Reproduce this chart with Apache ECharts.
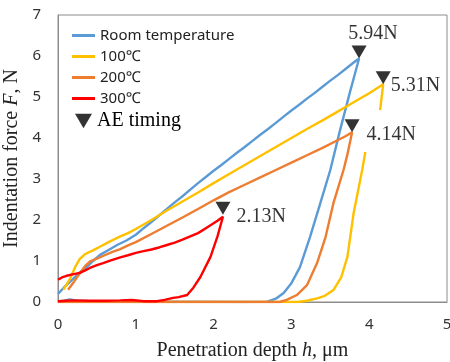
<!DOCTYPE html>
<html>
<head>
<meta charset="utf-8">
<script src="https://cdn.jsdelivr.net/npm/echarts@6/dist/echarts.min.js"></script>
<style>html,body{margin:0;padding:0;background:#fff;}#c{width:450px;height:362px;}</style>
</head>
<body>
<div id="c"></div>
<script>
// ---- data (penetration depth h [um], indentation force F [N]) ----
var seriesNames = ['Room temperature', '100℃', '200℃', '300℃'];
var seriesColors = ['#5B9BD5', '#FFC000', '#ED7D31', '#FF0000'];

var roomTemp = [
  [0,0.2],[0.08,0.36],[0.18,0.54],[0.28,0.72],[0.37,0.85],[0.45,1.0],[0.54,1.15],[0.65,1.27],[0.76,1.39],[0.88,1.5],
  [1.0,1.64],[1.1,1.8],[1.2,1.95],[1.3,2.11],[1.4,2.27],[1.5,2.43],[1.6,2.58],[1.7,2.74],[1.8,2.9],[1.9,3.05],
  [2.0,3.2],[2.1,3.34],[2.2,3.49],[2.3,3.64],[2.4,3.78],[2.5,3.93],[2.6,4.08],[2.7,4.22],[2.8,4.37],[2.9,4.52],
  [3.0,4.67],[3.1,4.81],[3.2,4.96],[3.3,5.1],[3.4,5.25],[3.5,5.4],[3.6,5.54],[3.7,5.69],[3.8,5.84],[3.87,5.94],
  [3.75,5.1],[3.62,4.15],[3.5,3.22],[3.37,2.4],[3.24,1.59],[3.11,0.85],[3.0,0.46],[2.9,0.22],[2.8,0.08],[2.69,0.01],
  [2.4,0.0],[1.5,0.01],[0.6,0.01],[0.25,0.03],[0.15,0.06],[0.08,0.03],[0,0.01]
];
var temp100 = [
  [0.07,0.3],[0.15,0.55],[0.22,0.85],[0.28,1.05],[0.35,1.17],[0.45,1.26],[0.55,1.36],[0.65,1.46],[0.8,1.6],[0.9,1.68],
  [1.0,1.78],[1.2,2.0],[1.4,2.23],[1.6,2.45],[1.8,2.67],[2.0,2.9],[2.2,3.12],[2.4,3.34],[2.6,3.56],[2.8,3.78],
  [3.0,4.0],[3.2,4.22],[3.4,4.43],[3.6,4.65],[3.8,4.87],[4.0,5.09],[4.18,5.31],
  [4.14,4.68],['-','-'],[3.95,3.66],[3.91,3.22],[3.8,2.17],[3.72,1.1],[3.64,0.6],[3.54,0.29],[3.43,0.15],[3.33,0.09],
  [3.2,0.03],[3.08,0.0],[2.0,0.0],[1.0,0.0],[0,0.0]
];
var temp200 = [
  [0.13,0.3],[0.2,0.48],[0.28,0.7],[0.35,0.88],[0.42,1.0],[0.5,1.06],[0.6,1.14],[0.7,1.22],[0.8,1.29],[0.9,1.38],
  [1.0,1.46],[1.2,1.66],[1.4,1.86],[1.6,2.06],[1.8,2.27],[2.0,2.48],[2.2,2.68],[2.4,2.86],[2.6,3.04],[2.8,3.22],
  [3.0,3.4],[3.2,3.58],[3.4,3.76],[3.6,3.95],[3.7,4.05],[3.78,4.14],
  [3.72,3.6],[3.67,3.22],[3.54,2.41],[3.44,1.59],[3.33,0.95],[3.2,0.41],[3.07,0.17],[2.94,0.05],[2.85,0.0],
  [2.0,0.0],[1.0,0.0],[0,0.0]
];
var temp300 = [
  [0,0.54],[0.05,0.6],[0.11,0.64],[0.2,0.68],[0.28,0.71],[0.35,0.77],[0.41,0.83],[0.5,0.9],[0.58,0.95],[0.67,1.01],
  [0.8,1.09],[0.9,1.14],[1.0,1.2],[1.1,1.24],[1.2,1.28],[1.3,1.33],[1.4,1.39],[1.5,1.45],[1.6,1.52],[1.7,1.6],
  [1.8,1.68],[1.9,1.8],[2.0,1.92],[2.05,1.98],[2.12,2.08],
  [2.05,1.6],[1.96,1.1],[1.83,0.61],[1.74,0.35],[1.66,0.17],[1.55,0.12],[1.48,0.1],[1.37,0.05],[1.27,0.02],
  [1.1,0.02],[0.95,0.05],[0.8,0.04],[0.6,0.03],[0.4,0.03],[0.2,0.04],[0.1,0.03],[0,0.02]
];
var aePoints = [[3.87,5.94],[4.18,5.31],[3.78,4.14],[2.12,2.13]];
var aeLabels = ['5.94N','5.31N','4.14N','2.13N'];
var xTicks = {min:0, max:5, interval:1};
var yTicks = {min:0, max:7, interval:1};

// ---- chart ----
var chart = echarts.init(document.getElementById('c'), null, {renderer:'canvas'});
var serif = '"Liberation Serif","Times New Roman",serif';
var sans = '"Noto Sans","Open Sans",sans-serif';
var tri = 'path://M0,0L20,0L10,17Z';
var lineData = [roomTemp, temp100, temp200, temp300];
var series = lineData.map(function(d, i){
  return {
    name: seriesNames[i], type:'line', data:d, symbol:'none', showSymbol:false,
    lineStyle:{color:seriesColors[i], width:2.4}, itemStyle:{color:seriesColors[i]},
    connectNulls:false, z:2+i, animation:false, silent:true
  };
});
var labelCfg = [
  {position:'top', distance:2, offset:[14,0]},
  {position:'right', distance:0, offset:[0,8]},
  {position:'right', distance:7, offset:[0,9]},
  {position:'right', distance:6, offset:[0,9]}
];
series.push({
  name:'AE timing', type:'scatter', symbol:tri, symbolSize:[15,13], symbolOffset:[0,-6.5],
  itemStyle:{color:'#000'}, z:10, animation:false, silent:true,
  data: aePoints.map(function(p, i){
    return {value:p, label:Object.assign({show:true, formatter:aeLabels[i], color:'#000',
      fontFamily:serif, fontSize:20}, labelCfg[i])};
  })
});

chart.setOption({
  backgroundColor:'#fff',
  animation:false,
  grid:{left:58, right:3, top:15, bottom:60, show:true, borderColor:'#8c8c8c', borderWidth:1,
    containLabel:false, outerBoundsMode:'none'},
  legend:[{
    data:seriesNames, orient:'vertical', left:67, top:23, itemWidth:23, itemHeight:3, itemGap:6, icon:'rect',
    textStyle:{fontFamily:sans, fontSize:15, color:'#222', lineHeight:15}, selectedMode:false
  },{
    data:[{name:'AE timing', icon:tri}], left:70, top:106, itemWidth:17, itemHeight:15,
    textStyle:{fontFamily:serif, fontSize:20, color:'#000'}, selectedMode:false
  }],
  xAxis:{
    type:'value', min:xTicks.min, max:xTicks.max, interval:xTicks.interval,
    name:'Penetration depth {i|h}, μm', nameLocation:'middle', nameGap:39,
    nameTextStyle:{fontFamily:serif, fontSize:20, color:'#222',
      rich:{i:{fontFamily:serif, fontSize:20, fontStyle:'italic', color:'#222'}}},
    axisLine:{show:true, lineStyle:{color:'#8c8c8c'}}, axisTick:{show:false},
    axisLabel:{fontFamily:sans, fontSize:15, color:'#333', margin:15},
    splitLine:{show:false}
  },
  yAxis:{
    type:'value', min:yTicks.min, max:yTicks.max, interval:yTicks.interval,
    name:'Indentation force {i|F}, N', nameLocation:'middle', nameGap:23, nameRotate:90,
    nameTextStyle:{fontFamily:serif, fontSize:20, color:'#222',
      rich:{i:{fontFamily:serif, fontSize:20, fontStyle:'italic', color:'#222'}}},
    axisLine:{show:true, lineStyle:{color:'#8c8c8c'}}, axisTick:{show:false},
    axisLabel:{fontFamily:sans, fontSize:15, color:'#333', margin:17},
    splitLine:{show:false}
  },
  series:series
});
</script>
</body>
</html>
